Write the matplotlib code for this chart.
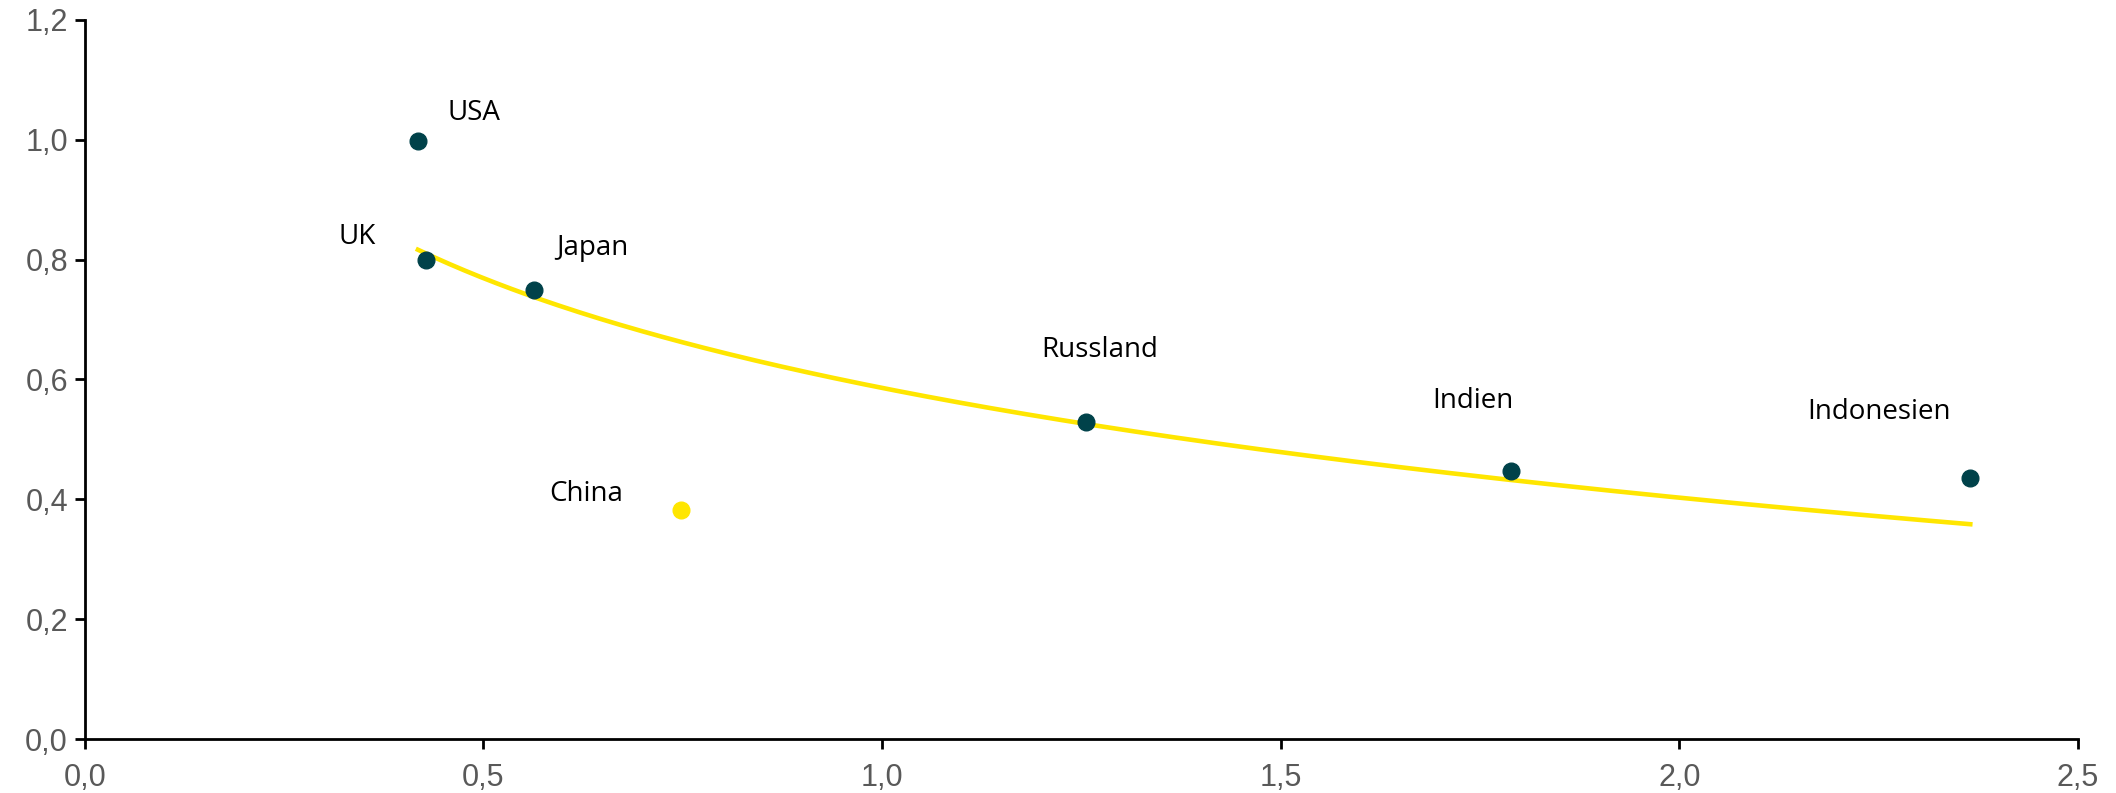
import numpy as np
import matplotlib.pyplot as plt
from matplotlib.ticker import FuncFormatter

# Daten
laender = ["USA", "UK", "Japan", "China", "Russland", "Indien", "Indonesien"]
x_werte = [0.418, 0.428, 0.564, 0.748, 1.256, 1.789, 2.365]
y_werte = [0.998, 0.800, 0.750, 0.383, 0.529, 0.448, 0.435]
# Label-Versatz in Pixeln (dx, dy) und Ausrichtung
label_offset = [(30, 28, "left"), (-50, 23, "right"), (22, 42, "left"),
                (-58, 16, "right"), (14, 72, "center"), (-38, 70, "center"),
                (-91, 66, "center")]

dunkel = "#00424a"
gelb = "#ffe600"

fig = plt.figure(figsize=(21.16, 7.93), dpi=100)
ax = fig.add_axes([0.040, 0.068, 0.942, 0.907])

# Punkte
for land, x, y in zip(laender, x_werte, y_werte):
    farbe = gelb if land == "China" else dunkel
    ax.plot(x, y, "o", color=farbe, markersize=12, zorder=3)

# logarithmischer Trend über alle Punkte
koef = np.polyfit(np.log(x_werte), y_werte, 1)
x_ohne_china = [x for l, x in zip(laender, x_werte) if l != "China"]
xs = np.linspace(min(x_ohne_china), max(x_ohne_china), 300)
ax.plot(xs, koef[0] * np.log(xs) + koef[1], color=gelb, linewidth=3.3, zorder=2)

# Beschriftungen
for land, x, y, (dx, dy, ha) in zip(laender, x_werte, y_werte, label_offset):
    ax.annotate(land, (x, y), xytext=(dx, dy), textcoords="offset pixels",
                ha=ha, va="center", fontsize=20, family="Open Sans", color="black")

ax.set_xlim(0, 2.5)
ax.set_ylim(0, 1.2)
ax.set_xticks(np.arange(0, 2.51, 0.5))
ax.set_yticks(np.arange(0, 1.21, 0.2))
komma = FuncFormatter(lambda v, p: f"{v:.1f}".replace(".", ","))
ax.xaxis.set_major_formatter(komma)
ax.yaxis.set_major_formatter(komma)

for s in ["top", "right"]:
    ax.spines[s].set_visible(False)
for s in ["left", "bottom"]:
    ax.spines[s].set_linewidth(2)
ax.tick_params(direction="out", length=7, width=2, labelsize=22,
               labelcolor="#595959", pad=5)
ax.tick_params(axis="x", pad=10)
for lab in ax.get_xticklabels() + ax.get_yticklabels():
    lab.set_family("Liberation Sans")

fig.savefig("out.png", dpi=100)
